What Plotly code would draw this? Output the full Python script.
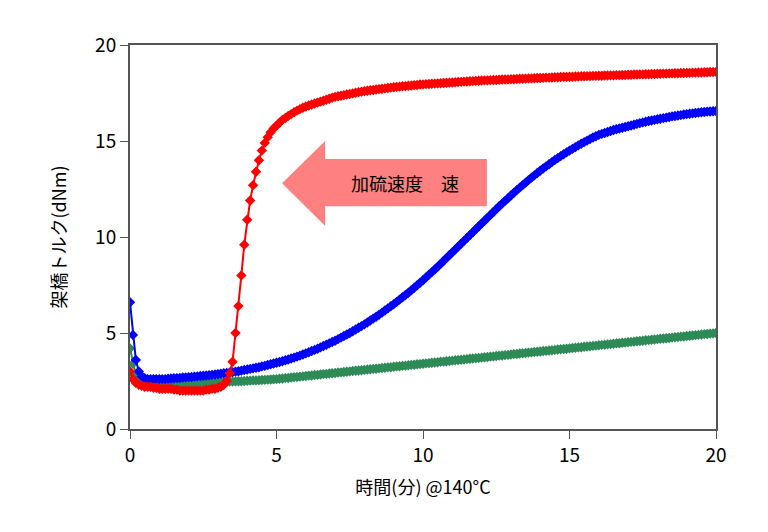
import plotly.graph_objects as go

# time axis (min), step 0.1
t = [round(i * 0.1, 1) for i in range(201)]

red = [
    3.0, 2.6, 2.4, 2.3, 2.25, 2.2, 2.2, 2.2, 2.15, 2.15,
    2.1, 2.1, 2.1, 2.1, 2.1, 2.05, 2.05, 2.0, 2.0, 2.0,
    2.0, 2.0, 2.0, 2.0, 2.0, 2.0, 2.05, 2.05, 2.1, 2.1,
    2.15, 2.2, 2.3, 2.5, 2.9, 3.5, 5.0, 6.4, 8.0, 9.6,
    10.9, 11.9, 12.7, 13.4, 14.0, 14.5, 14.9, 15.2, 15.45, 15.65,
    15.8, 15.95, 16.1, 16.2, 16.3, 16.4, 16.5, 16.58, 16.66, 16.73,
    16.8, 16.85, 16.9, 16.95, 17.0, 17.05, 17.1, 17.15, 17.2, 17.25,
    17.3, 17.33, 17.36, 17.39, 17.42, 17.45, 17.48, 17.51, 17.54, 17.57,
    17.6, 17.62, 17.64, 17.66, 17.68, 17.7, 17.72, 17.74, 17.76, 17.78,
    17.8, 17.82, 17.83, 17.85, 17.86, 17.88, 17.89, 17.91, 17.92, 17.94,
    17.95, 17.96, 17.97, 17.98, 17.99, 18.0, 18.01, 18.02, 18.03, 18.04,
    18.05, 18.06, 18.07, 18.08, 18.09, 18.1, 18.11, 18.12, 18.13, 18.14,
    18.15, 18.16, 18.16, 18.17, 18.18, 18.18, 18.19, 18.2, 18.2, 18.21,
    18.22, 18.22, 18.23, 18.24, 18.24, 18.25, 18.26, 18.26, 18.27, 18.28,
    18.28, 18.29, 18.3, 18.3, 18.31, 18.32, 18.32, 18.33, 18.34, 18.34,
    18.35, 18.35, 18.36, 18.36, 18.37, 18.37, 18.38, 18.38, 18.39, 18.39,
    18.4, 18.4, 18.41, 18.41, 18.42, 18.42, 18.43, 18.43, 18.44, 18.44,
    18.45, 18.45, 18.46, 18.46, 18.47, 18.47, 18.48, 18.48, 18.49, 18.49,
    18.5, 18.5, 18.51, 18.51, 18.52, 18.52, 18.53, 18.53, 18.54, 18.54,
    18.55, 18.55, 18.56, 18.56, 18.57, 18.57, 18.58, 18.58, 18.59, 18.59,
    18.6,
]

blue = [
    6.6, 4.9, 3.6, 3.0, 2.75, 2.65, 2.6, 2.6, 2.6, 2.6,
    2.6, 2.6, 2.6, 2.62, 2.63, 2.64, 2.65, 2.66, 2.68, 2.69,
    2.7, 2.71, 2.73, 2.74, 2.76, 2.77, 2.79, 2.8, 2.82, 2.84,
    2.86, 2.88, 2.9, 2.92, 2.94, 2.96, 2.99, 3.01, 3.04, 3.07,
    3.1, 3.13, 3.16, 3.19, 3.22, 3.26, 3.29, 3.33, 3.37, 3.41,
    3.45, 3.49, 3.53, 3.58, 3.62, 3.67, 3.72, 3.77, 3.82, 3.88,
    3.94, 4.0, 4.06, 4.12, 4.18, 4.25, 4.32, 4.39, 4.46, 4.53,
    4.6, 4.68, 4.76, 4.84, 4.92, 5.0, 5.09, 5.18, 5.27, 5.36,
    5.45, 5.55, 5.65, 5.75, 5.85, 5.95, 6.06, 6.17, 6.28, 6.39,
    6.5, 6.62, 6.74, 6.86, 6.98, 7.1, 7.23, 7.36, 7.49, 7.62,
    7.75, 7.89, 8.03, 8.17, 8.31, 8.45, 8.6, 8.75, 8.9, 9.05,
    9.2, 9.35, 9.5, 9.65, 9.8, 9.95, 10.1, 10.25, 10.4, 10.55,
    10.7, 10.85, 11.0, 11.15, 11.3, 11.45, 11.6, 11.74, 11.88, 12.02,
    12.16, 12.3, 12.44, 12.57, 12.7, 12.83, 12.96, 13.09, 13.21, 13.33,
    13.45, 13.57, 13.68, 13.79, 13.9, 14.01, 14.11, 14.21, 14.31, 14.41,
    14.5, 14.59, 14.68, 14.77, 14.86, 14.94, 15.02, 15.1, 15.18, 15.25,
    15.32, 15.37, 15.42, 15.47, 15.52, 15.57, 15.61, 15.65, 15.69, 15.73,
    15.77, 15.81, 15.85, 15.89, 15.93, 15.97, 16.0, 16.04, 16.07, 16.1,
    16.13, 16.16, 16.19, 16.22, 16.25, 16.28, 16.3, 16.33, 16.35, 16.38,
    16.4, 16.42, 16.44, 16.46, 16.48, 16.5, 16.51, 16.53, 16.54, 16.55,
    16.56,
]

green = [
    4.2, 3.4, 2.8, 2.5, 2.4, 2.38, 2.36, 2.35, 2.35, 2.35,
    2.35, 2.35, 2.36, 2.36, 2.36, 2.37, 2.37, 2.37, 2.38, 2.38,
    2.39, 2.39, 2.4, 2.4, 2.41, 2.41, 2.42, 2.42, 2.43, 2.43,
    2.44, 2.45, 2.45, 2.46, 2.47, 2.47, 2.48, 2.49, 2.49, 2.5,
    2.51, 2.52, 2.53, 2.53, 2.54, 2.55, 2.56, 2.57, 2.58, 2.59,
    2.6, 2.62, 2.63, 2.65, 2.66, 2.68, 2.7, 2.71, 2.73, 2.74,
    2.76, 2.78, 2.79, 2.81, 2.82, 2.84, 2.86, 2.87, 2.89, 2.9,
    2.92, 2.94, 2.95, 2.97, 2.98, 3.0, 3.02, 3.03, 3.05, 3.06,
    3.08, 3.1, 3.11, 3.13, 3.14, 3.16, 3.18, 3.19, 3.21, 3.22,
    3.24, 3.26, 3.27, 3.29, 3.3, 3.32, 3.34, 3.35, 3.37, 3.38,
    3.4, 3.42, 3.43, 3.45, 3.46, 3.48, 3.5, 3.51, 3.53, 3.54,
    3.56, 3.58, 3.59, 3.61, 3.62, 3.64, 3.66, 3.67, 3.69, 3.7,
    3.72, 3.74, 3.75, 3.77, 3.78, 3.8, 3.82, 3.83, 3.85, 3.86,
    3.88, 3.9, 3.91, 3.93, 3.94, 3.96, 3.98, 3.99, 4.01, 4.02,
    4.04, 4.06, 4.07, 4.09, 4.1, 4.12, 4.14, 4.15, 4.17, 4.18,
    4.2, 4.22, 4.23, 4.25, 4.26, 4.28, 4.3, 4.31, 4.33, 4.34,
    4.36, 4.38, 4.39, 4.41, 4.42, 4.44, 4.46, 4.47, 4.49, 4.5,
    4.52, 4.54, 4.55, 4.57, 4.58, 4.6, 4.62, 4.63, 4.65, 4.66,
    4.68, 4.7, 4.71, 4.73, 4.74, 4.76, 4.78, 4.79, 4.81, 4.82,
    4.84, 4.86, 4.87, 4.89, 4.9, 4.92, 4.94, 4.95, 4.97, 4.98,
    5.0,
]

font = "Noto Sans CJK JP"

fig = go.Figure()
for ys, col in [(green, "rgb(46,139,87)"), (blue, "rgb(0,0,255)"), (red, "rgb(255,0,0)")]:
    fig.add_trace(go.Scatter(
        x=t, y=ys, mode="lines+markers",
        line=dict(color=col, width=2),
        marker=dict(symbol="diamond", size=8, color=col),
        showlegend=False,
    ))

# pink arrow pointing left
fig.add_shape(
    type="path",
    path="M 5.19 12.8 L 6.66 15.0 L 6.66 14.06 L 12.18 14.06 L 12.18 11.6 L 6.66 11.6 L 6.66 10.57 Z",
    fillcolor="rgb(255,128,128)", line=dict(width=0), layer="below",
)
fig.add_annotation(x=9.39, y=12.8, text="加硫速度　速", showarrow=False,
                   font=dict(family=font, size=18, color="black"))

axis_common = dict(
    range=[0, 20], dtick=5, ticks="outside", ticklen=8, tickcolor="#555",
    showline=True, linecolor="#555", linewidth=2, mirror=True,
    showgrid=False, zeroline=False,
    tickfont=dict(family=font, size=19, color="black"),
)

fig.update_layout(
    width=768, height=532,
    margin=dict(l=122, r=60, t=37, b=111),
    plot_bgcolor="white", paper_bgcolor="white",
    xaxis=dict(axis_common, title=dict(text="時間(分) @140°C", font=dict(family=font, size=18, color="black"), standoff=16)),
    yaxis=dict(axis_common, title=dict(text="架橋トルク(dNm)", font=dict(family=font, size=18, color="black"), standoff=24)),
)

fig.write_html("out.html")
